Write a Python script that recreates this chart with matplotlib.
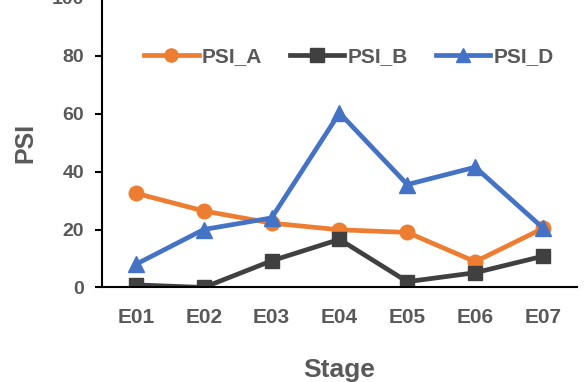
import matplotlib.pyplot as plt

stages = ['E01', 'E02', 'E03', 'E04', 'E05', 'E06', 'E07']
psi_a = [32.5, 26.4, 22.2, 19.9, 19.0, 8.9, 20.4]
psi_b = [0.9, 0.0, 9.2, 16.6, 2.0, 5.1, 10.8]
psi_d = [8.0, 20.0, 24.0, 60.2, 35.5, 41.5, 20.5]

plt.rcParams['font.family'] = ['Liberation Sans', 'DejaVu Sans']
text_col = '#595959'

fig = plt.figure(figsize=(5.86, 3.82), dpi=100)
ax = fig.add_axes([0.174, 0.2474, 0.8106, 0.759])

x = range(len(stages))
ax.plot(x, psi_a, color='#ED7D31', lw=3.4, marker='o', ms=10.5, label='PSI_A')
ax.plot(x, psi_b, color='#404040', lw=3.4, marker='s', ms=10.5, label='PSI_B')
ax.plot(x, psi_d, color='#4472C4', lw=3.4, marker='^', ms=11, label='PSI_D')

ax.set_xlim(-0.5, len(stages) - 0.5)
ax.set_ylim(0, 100)
ax.set_yticks(range(0, 101, 20))
ax.set_xticks(list(x))
ax.set_xticklabels(stages)

for s in ['top', 'right']:
    ax.spines[s].set_visible(False)
for s in ['left', 'bottom']:
    ax.spines[s].set_linewidth(1.5)
    ax.spines[s].set_color('black')
ax.tick_params(axis='y', direction='out', length=5, width=1.5, colors='black',
               labelcolor=text_col, labelsize=14, pad=8)
ax.tick_params(axis='x', length=0, labelcolor=text_col, labelsize=15, pad=15)
for lbl in ax.get_xticklabels() + ax.get_yticklabels():
    lbl.set_fontweight('bold')

ax.set_xlabel('Stage', fontsize=19, fontweight='bold', color=text_col, labelpad=22)
ax.set_ylabel('PSI', fontsize=18, fontweight='bold', color=text_col, labelpad=10)

ax.legend(loc='center', bbox_to_anchor=(0.52, 0.795), ncol=3, frameon=False,
          prop={'size': 15, 'weight': 'bold'}, labelcolor=text_col,
          handlelength=2.6, handletextpad=0.15, columnspacing=1.35, markerscale=0.9)

fig.savefig('out.png', dpi=100)
